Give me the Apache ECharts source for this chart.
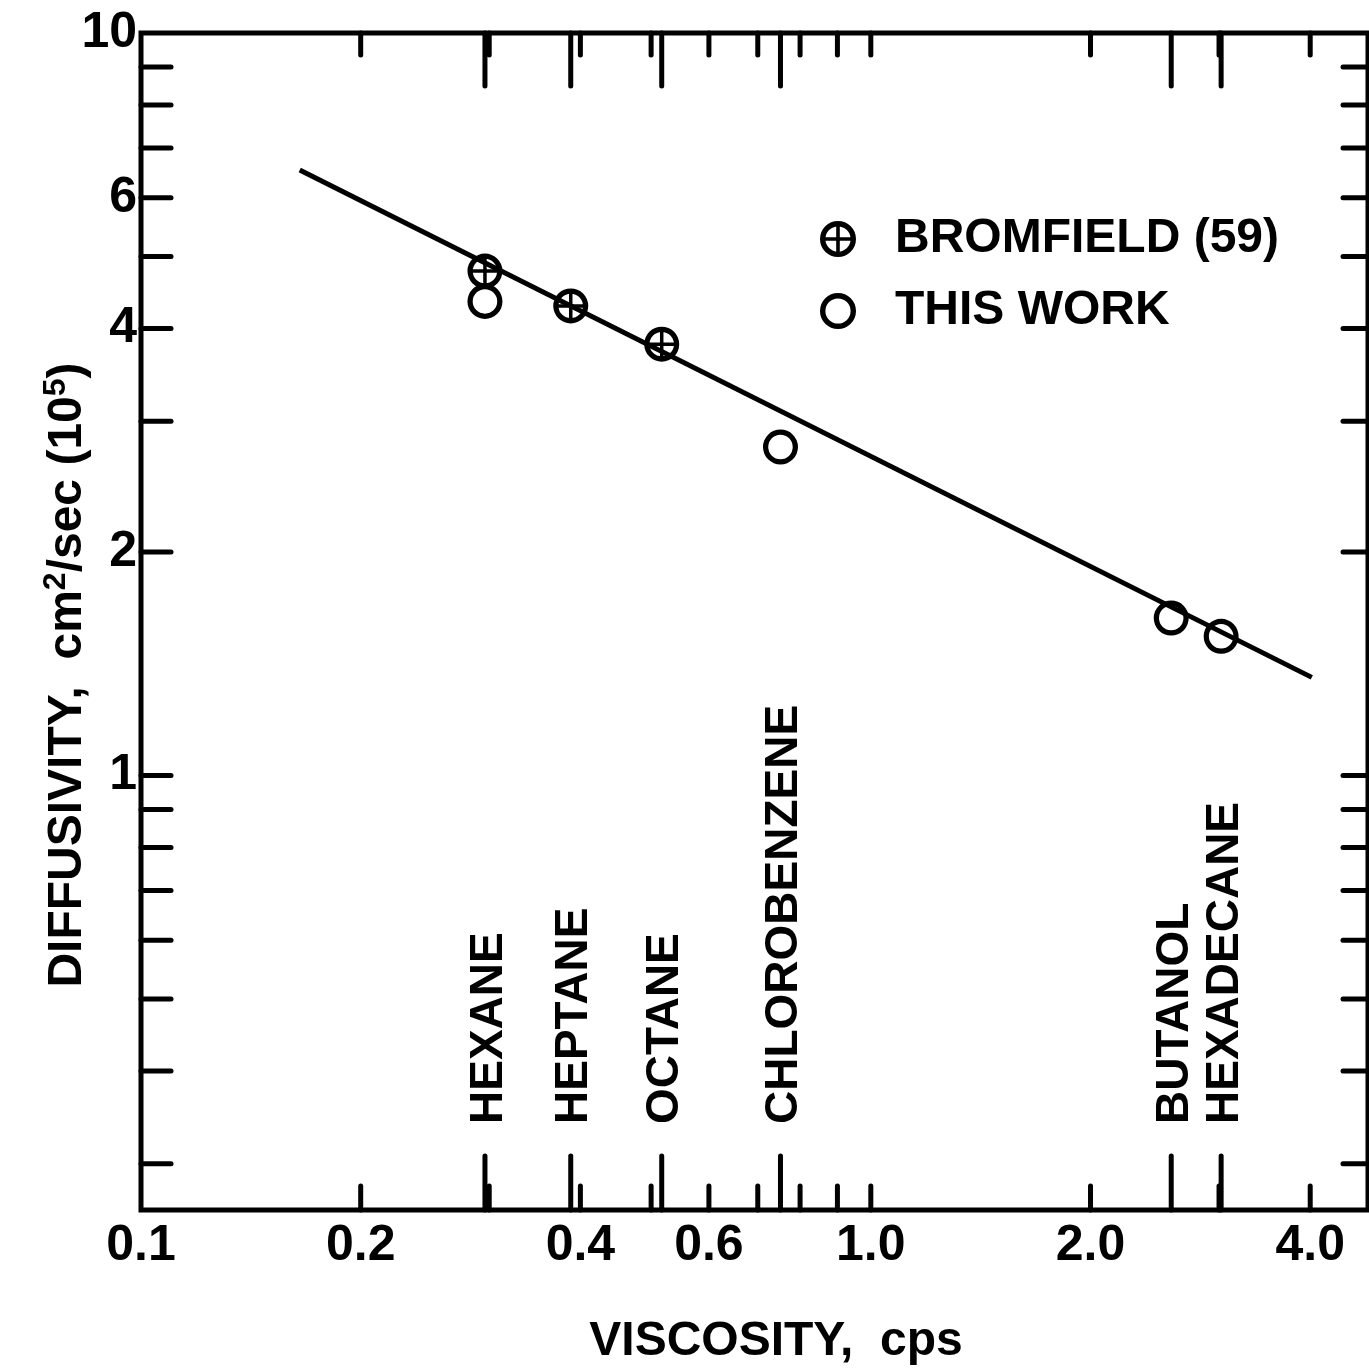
<!DOCTYPE html>
<html>
<head>
<meta charset="utf-8">
<script src="https://cdn.jsdelivr.net/npm/echarts@6/dist/echarts.min.js"></script>
<style>
html, body { margin: 0; padding: 0; background: #fff; }
#chart { width: 1369px; height: 1370px; }
</style>
</head>
<body>
<div id="chart"></div>
<script>
var FONT = '"Liberation Sans", Arial, Helvetica, sans-serif';

// axis ranges: viscosity (cps) and diffusivity (cm2/sec x 10^5)
var xMin = 0.1, xMax = 4.8;
var yMin = 0.26, yMax = 10;

var xMinorTicks = [0.2, 0.3, 0.4, 0.5, 0.6, 0.7, 0.8, 0.9, 1, 2, 3, 4];
var yMinorTicks = [0.3, 0.4, 0.5, 0.6, 0.7, 0.8, 0.9, 1, 2, 3, 4, 5, 6, 7, 8, 9];
var xLabelValues = [0.1, 0.2, 0.4, 0.6, 1, 2, 4];
var xLabelTexts = ['0.1', '0.2', '0.4', '0.6', '1.0', '2.0', '4.0'];
var yLabelValues = [1, 2, 4, 6, 10];
var yLabelTexts = ['1', '2', '4', '6', '10'];

var compounds = ['HEXANE', 'HEPTANE', 'OCTANE', 'CHLOROBENZENE', 'BUTANOL', 'HEXADECANE'];
var compoundVisc = [0.296, 0.388, 0.517, 0.752, 2.58, 3.02];

var bromfieldVisc = [0.296, 0.388, 0.517];
var bromfieldDiff = [4.78, 4.29, 3.81];
var thisWorkVisc = [0.296, 0.752, 2.58, 3.02];
var thisWorkDiff = [4.35, 2.77, 1.63, 1.54];

// correlation line end points
var fitVisc = [0.165, 4.02];
var fitDiff = [6.54, 1.356];

var RING = 'path://M0 50A50 50 0 1 1 100 50A50 50 0 1 1 0 50ZM15 50A35 35 0 1 0 85 50A35 35 0 1 0 15 50Z';
var RING_CROSS = RING + 'M45 8L55 8L55 92L45 92ZM8 45L92 45L92 55L8 55Z';

var LW = 5;

function pairs(xs, ys) {
    return xs.map(function (v, i) { return [v, ys[i]]; });
}

function seg(x1, y1, x2, y2) {
    return {
        type: 'line',
        shape: { x1: x1, y1: y1, x2: x2, y2: y2 },
        style: { stroke: '#000', lineWidth: LW, lineCap: 'round' }
    };
}

function txtStyle(text, size, align, valign) {
    return {
        text: text, fill: '#000', fontSize: size, fontWeight: 'bold', fontFamily: FONT,
        align: align, verticalAlign: valign, textAlign: align, textVerticalAlign: valign
    };
}

// ticks on bottom and top edges
function xTicks(values, lenBottom, lenTop) {
    return {
        type: 'custom', silent: true, z: 5,
        data: values.map(function (v) { return [v, yMin]; }),
        renderItem: function (params, api) {
            var b = api.coord([api.value(0), yMin]);
            var t = api.coord([api.value(0), yMax]);
            return {
                type: 'group',
                children: [
                    seg(b[0], b[1], b[0], b[1] - lenBottom),
                    seg(t[0], t[1], t[0], t[1] + lenTop)
                ]
            };
        }
    };
}

// ticks on left and right edges
function yTicks(values, lenLeft, lenRight) {
    return {
        type: 'custom', silent: true, z: 5,
        data: values.map(function (v) { return [xMin, v]; }),
        renderItem: function (params, api) {
            var l = api.coord([xMin, api.value(1)]);
            var r = api.coord([xMax, api.value(1)]);
            return {
                type: 'group',
                children: [
                    seg(l[0], l[1], l[0] + lenLeft, l[1]),
                    seg(r[0], r[1], r[0] - lenRight, r[1])
                ]
            };
        }
    };
}

var option = {
    animation: false,
    backgroundColor: '#fff',
    grid: {
        left: 141, top: 33, width: 1227, height: 1177,
        show: true, borderColor: '#000', borderWidth: LW
    },
    xAxis: {
        type: 'log', logBase: 10, min: xMin, max: xMax,
        axisLine: { show: false }, axisTick: { show: false },
        axisLabel: { show: false }, splitLine: { show: false }
    },
    yAxis: {
        type: 'log', logBase: 10, min: yMin, max: yMax,
        axisLine: { show: false }, axisTick: { show: false },
        axisLabel: { show: false }, splitLine: { show: false }
    },
    legend: {
        data: ['BROMFIELD (59)', 'THIS WORK'],
        orient: 'vertical',
        left: 820, top: 215,
        padding: 0,
        itemWidth: 36, itemHeight: 36, itemGap: 24,
        textStyle: {
            color: '#000', fontSize: 48, fontWeight: 'bold', fontFamily: FONT,
            padding: [0, 0, 0, 34]
        }
    },
    graphic: [
        {
            type: 'text', x: 776, y: 1342,
            style: txtStyle('VISCOSITY,  cps', 48, 'center', 'middle')
        },
        {
            type: 'text', x: 68, y: 675, rotation: Math.PI / 2,
            style: {
                text: '{a|DIFFUSIVITY,  cm}{s|2}{a|/sec (10}{s|5}{a|)}',
                fill: '#000', fontSize: 48, fontWeight: 'bold', fontFamily: FONT,
                align: 'center', verticalAlign: 'middle', textAlign: 'center', textVerticalAlign: 'middle',
                rich: {
                    a: { fontSize: 48, fontWeight: 'bold', fontFamily: FONT, fill: '#000', color: '#000', lineHeight: 56 },
                    s: { fontSize: 32, fontWeight: 'bold', fontFamily: FONT, fill: '#000', color: '#000', verticalAlign: 'top', lineHeight: 30 }
                }
            }
        }
    ],
    series: [
        {
            type: 'line', silent: true, z: 3,
            data: pairs(fitVisc, fitDiff),
            showSymbol: false, symbol: 'none',
            lineStyle: { color: '#000', width: LW }
        },
        {
            name: 'BROMFIELD (59)', type: 'scatter', z: 4,
            symbol: RING_CROSS, symbolSize: 35,
            itemStyle: { color: '#000', opacity: 1 },
            data: pairs(bromfieldVisc, bromfieldDiff)
        },
        {
            name: 'THIS WORK', type: 'scatter', z: 4,
            symbol: RING, symbolSize: 35,
            itemStyle: { color: '#000', opacity: 1 },
            data: pairs(thisWorkVisc, thisWorkDiff)
        },
        xTicks(xMinorTicks, 24, 22),
        xTicks(compoundVisc, 54, 53),
        yTicks(yMinorTicks, 30, 25),
        {
            // x tick labels
            type: 'custom', silent: true, z: 6,
            data: xLabelValues.map(function (v) { return [v, yMin]; }),
            renderItem: function (params, api) {
                var p = api.coord([api.value(0), yMin]);
                return { type: 'text', x: p[0], y: p[1] + 36, style: txtStyle(xLabelTexts[params.dataIndex], 50, 'center', 'middle') };
            }
        },
        {
            // y tick labels
            type: 'custom', silent: true, z: 6,
            data: yLabelValues.map(function (v) { return [xMin, v]; }),
            renderItem: function (params, api) {
                var p = api.coord([xMin, api.value(1)]);
                return { type: 'text', x: p[0] - 4, y: p[1], style: txtStyle(yLabelTexts[params.dataIndex], 50, 'right', 'middle') };
            }
        },
        {
            // compound names, rotated
            type: 'custom', silent: true, z: 6,
            data: compoundVisc.map(function (v) { return [v, yMin]; }),
            renderItem: function (params, api) {
                var p = api.coord([api.value(0), yMin]);
                return {
                    type: 'text', x: p[0] + 4, y: p[1] - 86, rotation: Math.PI / 2,
                    style: txtStyle(compounds[params.dataIndex], 46, 'left', 'middle')
                };
            }
        }
    ]
};

var chart = echarts.init(document.getElementById('chart'));
chart.setOption(option);
</script>
</body>
</html>
